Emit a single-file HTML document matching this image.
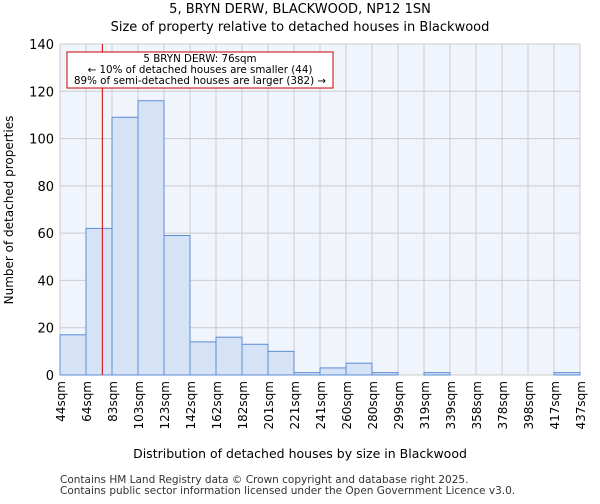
<!DOCTYPE html>
<html><head><meta charset="utf-8"><style>
body{margin:0;background:#fff;font-family:"DejaVu Sans","Liberation Sans",sans-serif}
svg text{font-family:"DejaVu Sans","Liberation Sans",sans-serif}
</style></head><body>
<svg id="c" width="600" height="500" xmlns="http://www.w3.org/2000/svg">
<text x="300" y="13" text-anchor="middle" font-size="13">5, BRYN DERW, BLACKWOOD, NP12 1SN</text>
<text x="300" y="31" text-anchor="middle" font-size="13">Size of property relative to detached houses in Blackwood</text>
<rect x="60" y="44" width="520" height="331" fill="#f0f4fc"/>
<g id="grid"></g><g id="bars"></g><g id="axes"></g>
<line id="marker" stroke="#cc0000" stroke-width="1"/>
<rect x="67" y="52" width="266" height="36" fill="#fff" stroke="#cc0000" stroke-width="1"/>
<text x="200" y="62" text-anchor="middle" font-size="10.3">5 BRYN DERW: 76sqm</text>
<text x="200" y="73" text-anchor="middle" font-size="10.3">← 10% of detached houses are smaller (44)</text>
<text x="200" y="84" text-anchor="middle" font-size="10.3">89% of semi-detached houses are larger (382) →</text>
<text x="300" y="458" text-anchor="middle" font-size="12.5">Distribution of detached houses by size in Blackwood</text>
<text transform="translate(13,210) rotate(-90)" text-anchor="middle" font-size="12">Number of detached properties</text>
<text x="60" y="483" font-size="10.5" fill="#333">Contains HM Land Registry data © Crown copyright and database right 2025.</text>
<text x="60" y="494" font-size="10.5" fill="#333">Contains public sector information licensed under the Open Government Licence v3.0.</text>
</svg>
<script>
const categories=["44sqm","64sqm","83sqm","103sqm","123sqm","142sqm","162sqm","182sqm","201sqm","221sqm","241sqm","260sqm","280sqm","299sqm","319sqm","339sqm","358sqm","378sqm","398sqm","417sqm","437sqm"];
const counts=[17,62,109,116,59,14,16,13,10,1,3,5,1,0,1,0,0,0,0,1];
const yTicks=[0,20,40,60,80,100,120,140];
const binStart=44, binWidth=19.65, propertySize=76;
const X0=60,X1=580,Y0=375,Y1=44,YMAX=140;
const bw=(X1-X0)/counts.length;
const xi=i=>X0+i*bw;
const xv=v=>X0+(v-binStart)/binWidth*bw;
const y=v=>Y0-(v/YMAX)*(Y0-Y1);
const NS="http://www.w3.org/2000/svg";
function mk(tag,parent,attrs){const e=document.createElementNS(NS,tag);for(const k in attrs)e.setAttribute(k,attrs[k]);document.getElementById(parent).appendChild(e);return e;}
yTicks.forEach(t=>{
 const l=mk('line','grid',{x1:X0,x2:X1,y1:y(t),y2:y(t),stroke:'#cccccc','stroke-width':1});
 
 
 const tx=mk('text','axes',{x:X0-6,y:y(t)+5,'text-anchor':'end','font-size':13});
 
 
 tx.textContent=t;
});
categories.forEach((c,i)=>{
 const l=mk('line','grid',{x1:xi(i),x2:xi(i),y1:Y1,y2:Y0,stroke:'#cccccc','stroke-width':1});
 
 
 const tx=mk('text','axes',{transform:`translate(${xi(i)+5},${Y0+6}) rotate(-90)`,'text-anchor':'end','font-size':12});
 
 
 tx.textContent=c;
});
counts.forEach((v,i)=>{
 if(v<=0)return;
 const r=mk('rect','bars',{x:xi(i),y:y(v),width:bw,height:Y0-y(v),fill:'#d6e2f5',stroke:'#5b8dd6','stroke-width':1});
 
 
});
const m=document.getElementById('marker');
m.setAttribute('x1',xv(propertySize));m.setAttribute('x2',xv(propertySize));
m.setAttribute('y1',Y1);m.setAttribute('y2',Y0);
</script>
</body></html>
